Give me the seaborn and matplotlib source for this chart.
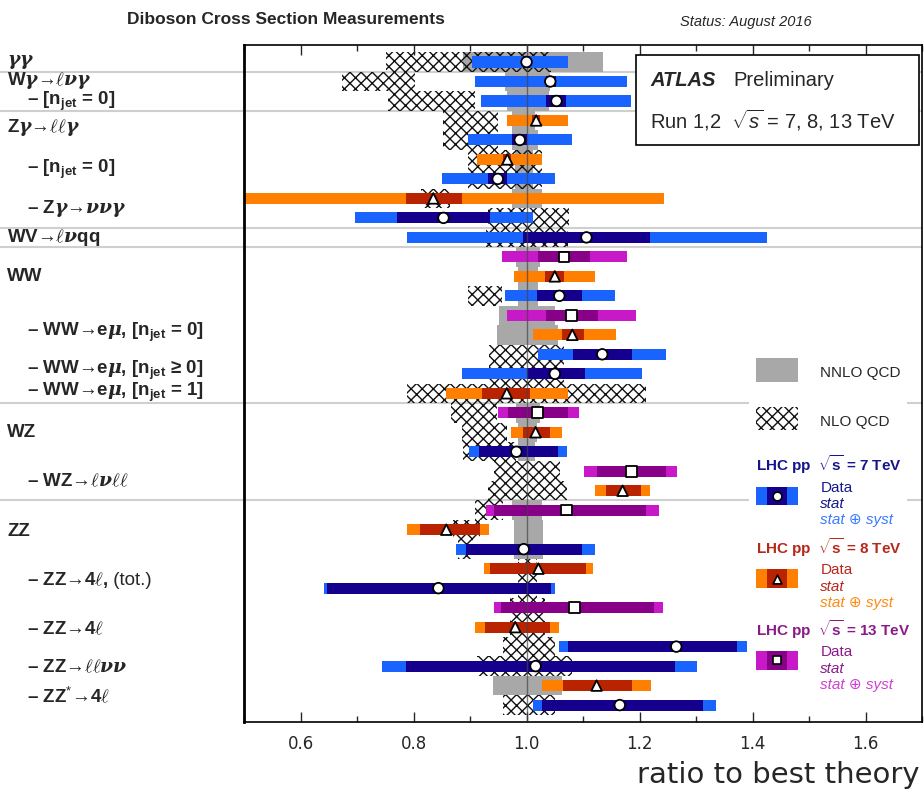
import matplotlib
matplotlib.use('Agg')
import matplotlib.pyplot as plt
import matplotlib.transforms as mtransforms
from matplotlib.patches import Rectangle
from matplotlib.ticker import MultipleLocator
import numpy as np
import pandas as pd
import seaborn as sns

nan = np.nan

# one entry per row, top to bottom
energy = ['7', '7', '7', '8', '7', '8', '7', '8', '7', '7',
          '13', '8', '7', '13', '8', '7', '7', '8',
          '13', '8', '7', '13', '8',
          '13', '8', '7', '8', '7', '13', '8', '7', '7', '8', '7']
central = [1.000, 1.042, 1.053, 1.017, 0.988, 0.966, 0.949, 0.835, 0.853, 1.106,
           1.066, 1.050, 1.058, 1.080, 1.081, 1.134, 1.050, 0.965,
           1.019, 1.016, 0.982, 1.186, 1.170,
           1.071, 0.858, 0.995, 1.021, 0.844, 1.085, 0.980, 1.265, 1.016, 1.124, 1.165]
stat_lo = [0.994, 1.034, 1.035, 1.010, 0.975, 0.958, 0.931, 0.787, 0.770, 0.993,
           1.021, 1.032, 1.019, 1.034, 1.062, 1.082, 1.000, 0.922,
           0.968, 0.993, 0.915, 1.124, 1.140,
           0.943, 0.811, 0.892, 0.936, 0.646, 0.954, 0.926, 1.073, 0.786, 1.064, 1.028]
stat_hi = [1.006, 1.053, 1.069, 1.024, 1.000, 0.972, 0.966, 0.885, 0.935, 1.218,
           1.113, 1.067, 1.099, 1.126, 1.101, 1.186, 1.103, 1.007,
           1.073, 1.041, 1.055, 1.246, 1.203,
           1.212, 0.917, 1.099, 1.106, 1.044, 1.225, 1.042, 1.373, 1.262, 1.186, 1.312]
tot_lo = [0.904, 0.908, 0.920, 0.965, 0.897, 0.913, 0.850, 0.450, 0.696, 0.788,
          0.956, 0.977, 0.961, 0.966, 1.011, 1.021, 0.885, 0.857,
          0.949, 0.972, 0.899, 1.101, 1.122,
          0.929, 0.789, 0.876, 0.924, 0.641, 0.943, 0.908, 1.058, 0.745, 1.027, 1.011]
tot_hi = [1.073, 1.177, 1.184, 1.073, 1.080, 1.027, 1.050, 1.243, 1.011, 1.425,
          1.178, 1.122, 1.157, 1.193, 1.159, 1.246, 1.205, 1.074,
          1.092, 1.062, 1.071, 1.267, 1.219,
          1.234, 0.933, 1.122, 1.117, 1.050, 1.241, 1.058, 1.391, 1.301, 1.221, 1.335]

# theory bands (ratio to best theory)
nnlo_lo = [0.887, 0.961, 0.965, 0.975, 0.975, 0.980, 0.980, 0.975, nan, nan,
           0.982, 0.985, 0.985, 0.952, 0.947, nan, nan, nan,
           0.982, 0.985, 0.985, nan, nan,
           0.975, 0.977, 0.977, nan, nan, nan, nan, nan, nan, 0.940, nan]
nnlo_hi = [1.135, 1.041, 1.040, 1.015, 1.020, 1.012, 1.012, 1.028, nan, nan,
           1.023, 1.020, 1.020, 1.050, 1.055, nan, nan, nan,
           1.023, 1.018, 1.015, nan, nan,
           1.027, 1.030, 1.030, nan, nan, nan, nan, nan, nan, 1.062, nan]
nlo_lo = [0.752, 0.674, 0.754, 0.853, 0.853, 0.897, 0.897, 0.814, 0.931, 0.929,
          nan, nan, 0.896, nan, nan, 0.933, 0.933, 0.788,
          0.867, 0.885, 0.887, 0.942, 0.931,
          0.908, 0.869, 0.878, 0.984, 0.984, 0.970, 0.970, 0.958, 0.913, nan, 0.958]
nlo_hi = [1.044, 0.802, 0.908, 0.950, 0.950, 1.027, 1.027, 0.864, 1.076, 1.073,
          nan, nan, 0.956, nan, nan, 1.067, 1.067, 1.212,
          0.947, 0.966, 0.982, 1.060, 1.071,
          0.958, 0.917, 0.905, 1.018, 1.018, 1.032, 1.032, 1.050, 1.080, nan, 1.050]

label_text = [r'$\gamma\gamma$', r'W$\gamma$→$\ell\nu\gamma$',
              r'– [n$_{\mathregular{jet}}$ = 0]', r'Z$\gamma$→$\ell\ell\gamma$',
              r'– [n$_{\mathregular{jet}}$ = 0]', r'– Z$\gamma$→$\nu\nu\gamma$',
              r'WV→$\ell\nu$qq', 'WW',
              r'– WW→e$\mu$, [n$_{\mathregular{jet}}$ = 0]',
              r'– WW→e$\mu$, [n$_{\mathregular{jet}}$ ≥ 0]',
              r'– WW→e$\mu$, [n$_{\mathregular{jet}}$ = 1]',
              'WZ', r'– WZ→$\ell\nu\ell\ell$', 'ZZ', r'– ZZ→4$\ell$,',
              r'– ZZ→4$\ell$', r'– ZZ→$\ell\ell\nu\nu$', r'– ZZ$^{*}$→4$\ell$']
label_note = ['', '', '', '', '', '', '', '', '', '', '', '', '', '', ' (tot.)',
              '', '', '']
label_row = [0, 0.97, 2.03, 3.35, 5.5, 7.5, 9, 11, 13.9, 15.85, 16.95,
             19, 21.55, 24.1, 26.6, 29.1, 31.05, 32.55]
separators = [0.5, 2.5, 8.5, 9.5, 17.5, 22.5]

light = {'7': '#1964ff', '8': '#ff8000', '13': '#c819c8'}
dark = {'7': '#14008c', '8': '#b92300', '13': '#870087'}
head_col = {'7': '#16168c', '8': '#b8281a', '13': '#8a1a8a'}
syst_col = {'7': '#3a7aff', '8': '#ff8a10', '13': '#d040d0'}
marker = {'7': 'o', '8': '^', '13': 's'}

df = pd.DataFrame({
    'row': np.arange(len(central)), 'energy': energy, 'central': central,
    'stat_lo': stat_lo, 'stat_hi': stat_hi, 'tot_lo': tot_lo, 'tot_hi': tot_hi,
    'nnlo_lo': nnlo_lo, 'nnlo_hi': nnlo_hi, 'nlo_lo': nlo_lo, 'nlo_hi': nlo_hi,
})

sns.set_style('ticks')
plt.rcParams['font.family'] = ['Liberation Sans', 'DejaVu Sans']
plt.rcParams['mathtext.fontset'] = 'custom'
plt.rcParams['mathtext.rm'] = 'Liberation Sans'
plt.rcParams['mathtext.it'] = 'DejaVu Serif:italic:bold'
plt.rcParams['mathtext.bf'] = 'Liberation Sans:bold'
plt.rcParams['mathtext.sf'] = 'Liberation Sans:italic'
plt.rcParams['mathtext.fallback'] = 'cm'
plt.rcParams['hatch.linewidth'] = 1.0

fig = plt.figure(figsize=(9.24, 7.93), dpi=100)
ax = fig.add_axes([0.2641, 0.0895, 0.7338, 0.8537])

# theory
th = df.dropna(subset=['nnlo_lo'])
ax.barh(th['row'], th['nnlo_hi'] - th['nnlo_lo'], left=th['nnlo_lo'], height=1.0,
        color='#a8a8a8', linewidth=0, zorder=1)
th = df.dropna(subset=['nlo_lo'])
ax.barh(th['row'], th['nlo_hi'] - th['nlo_lo'], left=th['nlo_lo'], height=1.0,
        facecolor='none', edgecolor='#111111', hatch='xxx', linewidth=0, zorder=1.2)

# measurements
for e in ['7', '8', '13']:
    sub = df[df['energy'] == e]
    ax.barh(sub['row'], sub['tot_hi'] - sub['tot_lo'], left=sub['tot_lo'], height=0.57,
            color=light[e], linewidth=0, zorder=2)
    ax.barh(sub['row'], sub['stat_hi'] - sub['stat_lo'], left=sub['stat_lo'], height=0.57,
            color=dark[e], linewidth=0, zorder=2.1)

ax.axvline(1.0, color='#444444', lw=1.0, alpha=0.7, zorder=3)

sns.scatterplot(data=df, x='central', y='row', style='energy', markers=marker,
                color='white', edgecolor='black', linewidth=1.3, s=58,
                legend=False, zorder=5, ax=ax)

ax.set_xlim(0.5, 1.7)
ax.set_ylim(33.87, -0.87)
ax.set_xlabel('')
ax.set_ylabel('')
ax.set_yticks([])
ax.set_xticks([0.6, 0.8, 1.0, 1.2, 1.4, 1.6])
ax.xaxis.set_minor_locator(MultipleLocator(0.1))
ax.tick_params(axis='x', which='both', direction='in', top=True, width=1.0,
               labelsize=12, pad=9)
ax.tick_params(axis='x', which='major', length=7)
ax.tick_params(axis='x', which='minor', length=4)
plt.setp(ax.get_xticklabels(), family='DejaVu Sans')
for s in ax.spines.values():
    s.set_color('black')
    s.set_linewidth(1.2)
ax.spines['left'].set_linewidth(2.0)

# separators between processes
yt = ax.get_yaxis_transform()
for b in separators:
    ax.plot([-0.36, 1.0], [b, b], transform=yt, color='#cfcfcf', lw=1.5,
            clip_on=False, zorder=0.5)

# process labels
renderer = fig.canvas.get_renderer()
trans = mtransforms.blended_transform_factory(fig.transFigure, ax.transData)
for txt, note, r in zip(label_text, label_note, label_row):
    x = 0.029 if txt.startswith('–') else 0.0076
    t = ax.text(x, r, txt, transform=trans, ha='left', va='center', fontsize=13.5,
                fontweight='bold', clip_on=False)
    if note:
        bb = t.get_window_extent(renderer=renderer)
        ax.text(bb.x1 / fig.bbox.width, r, note, transform=trans, ha='left',
                va='center', fontsize=13.5, clip_on=False)

# ATLAS box
ax.add_patch(Rectangle((0.578, 0.852), 0.418, 0.133, transform=ax.transAxes,
                       facecolor='white', edgecolor='black', lw=1.2, zorder=6))
ax.text(0.599, 0.948, 'ATLAS', transform=ax.transAxes, fontsize=14.5,
        fontweight='bold', style='italic', va='center', zorder=7)
ax.text(0.721, 0.948, 'Preliminary', transform=ax.transAxes, fontsize=14.5,
        va='center', zorder=7)
ax.text(0.599, 0.889, r'Run 1,2  $\sqrt{\mathsf{s}}$ = 7, 8, 13 TeV', transform=ax.transAxes,
        fontsize=14.5, va='center', zorder=7)

# legend
ax.add_patch(Rectangle((0.745, 0.05), 0.233, 0.51, transform=ax.transAxes,
                       facecolor='white', edgecolor='none', zorder=0.6))
ax.add_patch(Rectangle((0.755, 0.502), 0.062, 0.036, transform=ax.transAxes,
                       facecolor='#a8a8a8', edgecolor='none', zorder=6))
ax.add_patch(Rectangle((0.755, 0.431), 0.062, 0.034, transform=ax.transAxes,
                       facecolor='none', edgecolor='#111111', hatch='xxx',
                       lw=0, zorder=6))
ax.text(0.850, 0.515, 'NNLO QCD', transform=ax.transAxes, fontsize=11, va='center')
ax.text(0.850, 0.443, 'NLO QCD', transform=ax.transAxes, fontsize=11, va='center')

leg_y = {'7': 0.380, '8': 0.258, '13': 0.137}
for e, y0 in leg_y.items():
    ax.text(0.755, y0, r'LHC pp  $\sqrt{\mathbf{s}}$ = ' + e + ' TeV', transform=ax.transAxes,
            fontsize=11, fontweight='bold', color=head_col[e], va='center')
    ys = y0 - 0.046
    ax.add_patch(Rectangle((0.755, ys - 0.0135), 0.062, 0.027, transform=ax.transAxes,
                           facecolor=light[e], edgecolor='none', zorder=6))
    ax.add_patch(Rectangle((0.771, ys - 0.0135), 0.030, 0.027, transform=ax.transAxes,
                           facecolor=dark[e], edgecolor='none', zorder=6.1))
    ax.scatter([0.786], [ys], transform=ax.transAxes, marker=marker[e], s=40,
               facecolor='white', edgecolor='black', linewidth=1.2, zorder=7)
    ax.text(0.850, ys + 0.012, 'Data', transform=ax.transAxes, fontsize=11,
            color=head_col[e], va='center')
    ax.text(0.850, ys - 0.012, 'stat', transform=ax.transAxes, fontsize=11,
            style='italic', color=head_col[e], va='center')
    ax.text(0.850, ys - 0.036, 'stat ⊕ syst', transform=ax.transAxes, fontsize=11,
            style='italic', color=syst_col[e], va='center')

ax.text(0.997, -0.078, 'ratio to best theory', transform=ax.transAxes, fontsize=21,
        family='DejaVu Sans', ha='right', va='center')

fig.text(0.137, 0.975, 'Diboson Cross Section Measurements', fontsize=12.5,
         fontweight='bold', va='center')
fig.text(0.736, 0.972, 'Status: August 2016', fontsize=10.5, style='italic',
         va='center')

fig.savefig('out.png', dpi=100)
plt.close(fig)
